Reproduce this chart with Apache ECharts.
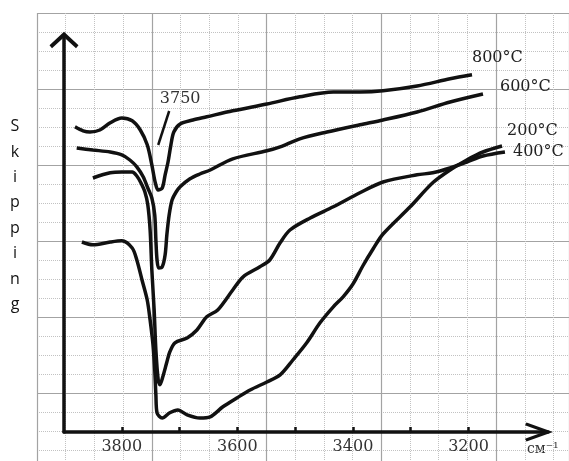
<!DOCTYPE html>
<html>
<head>
<meta charset="utf-8">
<script src="https://cdn.jsdelivr.net/npm/echarts/dist/echarts.min.js"></script>
<style>
html,body{margin:0;padding:0;background:#fff;}
#chart{width:569px;height:461px;}
</style>
</head>
<body>
<div id="chart"></div>
<script>
// Wavenumber (cm-1) and relative transmission values
const wn800 = [3881, 3867, 3855, 3838, 3820, 3800, 3782, 3768, 3756, 3748, 3742, 3737, 3730, 3725, 3720, 3715, 3710, 3699, 3677, 3653, 3608, 3549, 3492, 3434, 3388, 3348, 3289, 3232, 3194];
const t800  = [76.3, 75.3, 75, 75.5, 77.3, 78.5, 77.8, 75.5, 71.8, 66.8, 62.3, 60.5, 61, 64.3, 67.5, 71.8, 75, 77, 78, 78.8, 80.3, 82, 83.8, 85, 85, 85.3, 86.5, 88.3, 89.3];

const wn600 = [3878, 3850, 3820, 3800, 3786, 3774, 3763, 3755, 3748, 3743, 3741, 3739, 3736, 3730, 3725, 3722, 3718, 3713, 3706, 3699, 3682, 3665, 3647, 3608, 3549, 3526, 3492, 3445, 3388, 3348, 3289, 3232, 3175];
const t600  = [71, 70.5, 70, 69.3, 68, 66.3, 63.8, 61, 58.5, 54.3, 48, 43, 41, 41.3, 44.3, 49.3, 54.3, 58, 60, 61.3, 63.3, 64.5, 65.5, 68.3, 70.3, 71.3, 73.3, 75, 76.8, 78, 80, 82.5, 84.5];

const wn400 = [3850, 3820, 3800, 3782, 3774, 3767, 3760, 3755, 3751, 3748, 3744, 3741, 3737, 3734, 3729, 3722, 3717, 3708, 3687, 3670, 3653, 3634, 3608, 3590, 3561, 3544, 3526, 3509, 3474, 3434, 3388, 3348, 3289, 3262, 3232, 3203, 3175, 3137];
const t400  = [63.5, 64.8, 65, 65, 64, 62.3, 60, 56.8, 50.5, 40.5, 30.5, 20.5, 13, 11.8, 13.8, 17.5, 20, 22.3, 23.5, 25.5, 28.8, 30.5, 35.5, 38.8, 41.3, 43, 47.3, 50.5, 53.5, 56.3, 59.8, 62.5, 64.3, 64.8, 66, 67.5, 69, 70];

const wn200 = [3869, 3850, 3820, 3800, 3782, 3774, 3765, 3756, 3751, 3746, 3743, 3741, 3739, 3730, 3717, 3703, 3687, 3665, 3647, 3625, 3601, 3578, 3549, 3526, 3504, 3480, 3457, 3434, 3417, 3400, 3383, 3365, 3348, 3301, 3262, 3232, 3203, 3175, 3142];
const t200  = [47.5, 46.8, 47.5, 47.8, 46, 43, 38, 33, 28, 21.8, 15.5, 9.3, 4.8, 3.5, 4.8, 5.5, 4.3, 3.5, 3.8, 6.3, 8.5, 10.5, 12.5, 14.3, 18, 22.3, 27.3, 31.3, 33.8, 37, 41.5, 45.8, 49.5, 56.3, 62.3, 65.5, 68, 70, 71.5];

const seriesNames = ['800°C', '600°C', '200°C', '400°C'];
const tickMarks  = [3800, 3700, 3600, 3500, 3400, 3300, 3200];
const tickLabels = [3800, 3600, 3400, 3200];

// annotation pointer for the 3750 band (lower end first, upper end carries the text)
const annotWn = [3737, 3718];
const annotT  = [71.75, 80.25];
const annotText = '3750';

const yLetters = 'Skipping';
const xUnit = 'см⁻¹';

const pair = (xs, ys) => xs.map((x, i) => [x, ys[i]]);

const serifFont = 'DejaVu Serif';
const ink = '#111';

const arrowUp = 'path://M14.5,0 L29,13.5 L26.5,16.5 L14.5,5.5 L2.5,16.5 L0,13.5 Z';
const arrowRight = 'path://M9.5,0 L19,26.5 L16.3,28 L9.5,9.5 L2.7,28 L0,26.5 Z';

function curve(name, data, off) {
  return {
    name: name, type: 'line', xAxisIndex: 2, yAxisIndex: 2,
    data: data, smooth: 0.3, showSymbol: false, symbol: 'none',
    lineStyle: { color: ink, width: 3.5 },
    endLabel: {
      show: true, formatter: name, align: 'left', verticalAlign: 'middle', distance: 0,
      offset: off, fontFamily: serifFont, fontSize: 16, color: '#222'
    },
    z: 5
  };
}

const chart = echarts.init(document.getElementById('chart'), null, { renderer: 'canvas' });

const minor = { show: true, lineStyle: { color: '#c2c2c2', type: 'dotted', width: 1 } };
const major = { show: true, lineStyle: { color: '#a3a3a3', type: 'solid', width: 1.2 } };
const hidden = { axisLine: { show: false }, axisTick: { show: false }, axisLabel: { show: false } };

chart.setOption({
  animation: false,
  backgroundColor: '#fff',
  grid: [
    { left: 37, top: 13, right: 0, bottom: 0, show: false },
    { left: 64, top: 36, right: 21, bottom: 29, show: false }
  ],
  xAxis: [
    Object.assign({ gridIndex: 0, type: 'value', min: 0, max: 18.54, interval: 1, splitLine: minor }, hidden),
    Object.assign({ gridIndex: 0, type: 'value', min: 0, max: 18.54, interval: 4, splitLine: major }, hidden),
    {
      gridIndex: 1, type: 'value', min: 3062.5, max: 3900, inverse: true,
      axisLine: { show: true, onZero: false, lineStyle: { color: ink, width: 3.5 },
        symbol: ['none', arrowRight], symbolSize: [19, 28], symbolOffset: [0, -9] },
      axisTick: { show: true, inside: true, length: 5, customValues: tickMarks, lineStyle: { color: ink, width: 2.5 } },
      axisLabel: { show: true, customValues: tickLabels, margin: 7, formatter: v => String(v),
        fontFamily: serifFont, fontSize: 16, color: '#333' },
      splitLine: { show: false }
    }
  ],
  yAxis: [
    Object.assign({ gridIndex: 0, type: 'value', min: 0, max: 23.58, interval: 1, inverse: true, splitLine: minor }, hidden),
    Object.assign({ gridIndex: 0, type: 'value', min: 0, max: 23.58, interval: 4, inverse: true, splitLine: major }, hidden),
    {
      gridIndex: 1, type: 'value', min: 0, max: 99,
      axisLine: { show: true, onZero: false, lineStyle: { color: ink, width: 3.5 },
        symbol: ['none', arrowUp], symbolSize: [29, 17], symbolOffset: [0, -4] },
      axisTick: { show: false }, axisLabel: { show: false }, splitLine: { show: false }
    }
  ],
  series: [
    curve(seriesNames[0], pair(wn800, t800), [0, -17]),
    curve(seriesNames[1], pair(wn600, t600), [17, -7]),
    curve(seriesNames[2], pair(wn200, t200), [5, -15]),
    curve(seriesNames[3], pair(wn400, t400), [8, 0]),
    {
      name: 'pointer', type: 'line', xAxisIndex: 2, yAxisIndex: 2,
      data: pair(annotWn, annotT),
      showSymbol: false, symbol: 'none', lineStyle: { color: ink, width: 2.5 }, z: 5,
      endLabel: { show: true, formatter: annotText, align: 'center', verticalAlign: 'bottom', distance: 0,
        offset: [11, -4], fontFamily: serifFont, fontSize: 16, color: '#333' }
    }
  ],
  graphic: [
    { type: 'text', x: 15, y: 114, style: { text: yLetters.split('').join('\n'), fontFamily: 'Open Sans', fontSize: 16,
      lineHeight: 25.4, align: 'center', verticalAlign: 'top', fill: '#111' } },
    { type: 'text', x: 527, y: 449, style: { text: xUnit, fontFamily: serifFont, fontSize: 14,
      align: 'left', verticalAlign: 'middle', fill: '#333' } }
  ]
});
</script>
</body>
</html>
